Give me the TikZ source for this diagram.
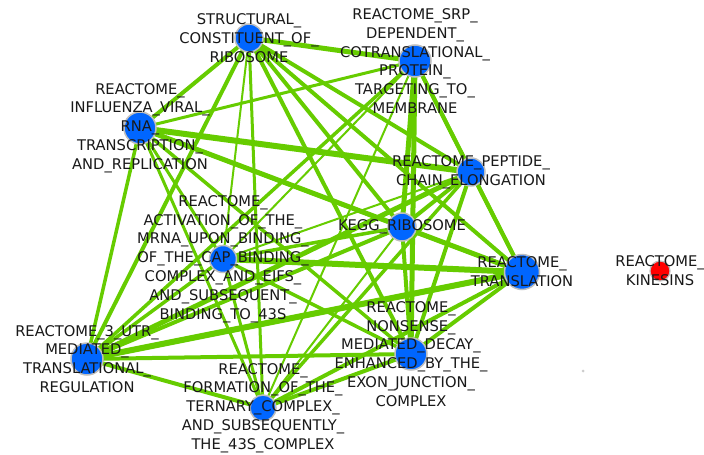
\documentclass[tikz,border=0pt]{standalone}
\usepackage{fontspec}
\setmainfont{DejaVu Sans}
\pgfdeclarelayer{bg0}
\pgfdeclarelayer{background}
\pgfsetlayers{bg0,background,main}
\definecolor{edgegreen}{RGB}{102,204,0}
\definecolor{nodeblue}{RGB}{0,102,255}
\definecolor{nodered}{RGB}{255,0,0}
\definecolor{ringgrey}{RGB}{190,190,190}
\begin{document}
\begin{tikzpicture}[x=1pt,y=-1pt,
  gnode/.style={circle, fill=nodeblue, draw=ringgrey, line width=1.5pt, inner sep=0pt},
  rnode/.style={circle, fill=nodered, draw=ringgrey, line width=1.2pt, inner sep=0pt},
  lbl/.style={align=center, font=\fontsize{14.7}{18.8}\selectfont, text=black!90, inner sep=0pt},
  edge/.style={draw=edgegreen}]
\useasboundingbox (0,0) rectangle (704,455);
\begin{pgfonlayer}{bg0}
\fill[white] (0,0) rectangle (704,455);
\end{pgfonlayer}
% nodes
\node[gnode, minimum size=28pt] (S) at (249,38) {};
\node[gnode, minimum size=32pt] (P) at (415,61) {};
\node[gnode, minimum size=32pt] (I) at (140,128) {};
\node[gnode, minimum size=28pt] (E) at (471,172) {};
\node[gnode, minimum size=28pt] (K) at (402,227) {};
\node[gnode, minimum size=27pt] (A) at (223,259) {};
\node[gnode, minimum size=35pt] (T) at (522,272) {};
\node[gnode, minimum size=32pt] (U) at (87,359) {};
\node[gnode, minimum size=32pt] (N) at (411,354) {};
\node[gnode, minimum size=26pt] (F) at (263,408) {};
\node[rnode, minimum size=20pt] (KIN) at (660,271) {};
\node[circle, fill=black!20, inner sep=0pt, minimum size=3pt] (dot) at (583,371) {};
% edges
\begin{pgfonlayer}{background}
\foreach \a/\b/\w in {
  S/P/5, S/I/4, S/E/4, S/K/4, S/T/4, S/N/4, S/U/4, S/A/2, S/F/3,
  P/I/3, P/E/4, P/K/5, P/T/4, P/A/2, P/U/3.5, P/F/2, P/N/5,
  I/E/6, I/K/4, I/T/5, I/A/3, I/U/3.5, I/N/3.5, I/F/3,
  E/K/4, E/T/4, E/A/2, E/U/5, E/N/4, E/F/3.5,
  K/T/4, K/A/3.5, K/U/4, K/N/4, K/F/2,
  T/A/6, T/U/6, T/N/4, T/F/4,
  A/U/3.5, A/N/3.5, A/F/3,
  U/N/4, U/F/4, N/F/4}
  \draw[edge, line width=\w pt] (\a.center) -- (\b.center);
\end{pgfonlayer}
% labels
\node[lbl] (Sl) at (S.center) {STRUCTURAL\_\\CONSTITUENT\_OF\_\\RIBOSOME};
\node[lbl] (Pl) at (P.center) {REACTOME\_SRP\_\\DEPENDENT\_\\COTRANSLATIONAL\_\\PROTEIN\_\\TARGETING\_TO\_\\MEMBRANE};
\node[lbl] (Il) at (I.center) {REACTOME\_\\INFLUENZA\_VIRAL\_\\RNA\_\\TRANSCRIPTION\_\\AND\_REPLICATION};
\node[lbl] (El) at (E.center) {REACTOME\_PEPTIDE\_\\CHAIN\_ELONGATION};
\node[lbl] (Kl) at (K.center) {KEGG\_RIBOSOME};
\node[lbl] (Al) at (A.center) {REACTOME\_\\ACTIVATION\_OF\_THE\_\\MRNA\_UPON\_BINDING\_\\OF\_THE\_CAP\_BINDING\_\\COMPLEX\_AND\_EIFS\_\\AND\_SUBSEQUENT\_\\BINDING\_TO\_43S};
\node[lbl] (Tl) at (T.center) {REACTOME\_\\TRANSLATION};
\node[lbl] (KINl) at (KIN.center) {REACTOME\_\\KINESINS};
\node[lbl] (Ul) at (U.center) {REACTOME\_3\_UTR\_\\MEDIATED\_\\TRANSLATIONAL\_\\REGULATION};
\node[lbl] (Nl) at (N.center) {REACTOME\_\\NONSENSE\_\\MEDIATED\_DECAY\_\\ENHANCED\_BY\_THE\_\\EXON\_JUNCTION\_\\COMPLEX};
\node[lbl] (Fl) at (F.center) {REACTOME\_\\FORMATION\_OF\_THE\_\\TERNARY\_COMPLEX\_\\AND\_SUBSEQUENTLY\_\\THE\_43S\_COMPLEX};
\end{tikzpicture}
\end{document}
